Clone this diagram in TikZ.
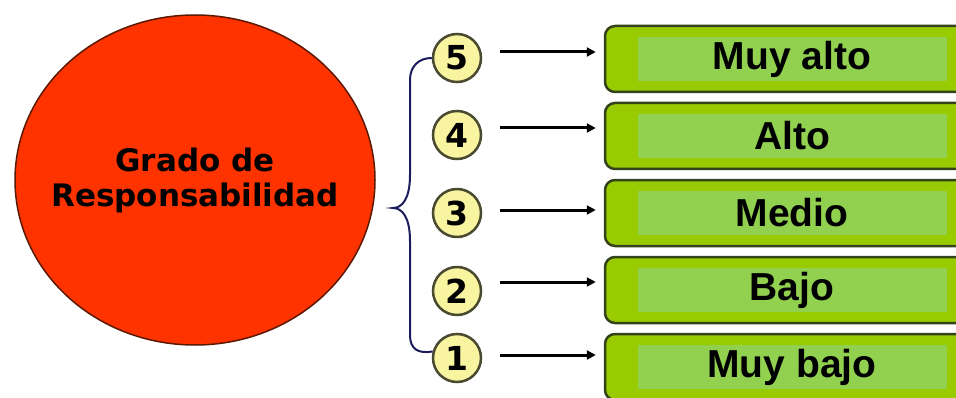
\documentclass[tikz,border=0pt]{standalone}
\usepackage{fontspec}
\usepackage{tikz}
\usetikzlibrary{shapes.geometric, arrows.meta, positioning, calc}
\usepackage{xcolor}

\newfontfamily\gradofont{DejaVu Sans}
\newfontfamily\nivelfont{Liberation Sans}

\definecolor{naranja}{HTML}{FF3300}
\definecolor{bordeRojo}{HTML}{5C1800}
\definecolor{amarillo}{HTML}{F8F4A0}
\definecolor{bordeNum}{HTML}{4A4A30}
\definecolor{verde}{HTML}{99CC00}
\definecolor{verdeClaro}{HTML}{92D050}
\definecolor{bordeVerde}{HTML}{34421A}
\definecolor{azulLlave}{HTML}{1C1C5C}

\begin{document}
\begin{tikzpicture}[x=1pt,y=1pt,node distance=77pt,on grid,auto]
    \tikzstyle{state}=[shape=ellipse,draw=bordeRojo,fill=naranja,line width=1.5pt,minimum width=360pt,minimum height=330pt,inner sep=0pt]
    \tikzstyle{title}=[align=center,text=black,inner sep=0pt,font=\gradofont\bfseries\fontsize{31}{35}\selectfont]
    \tikzstyle{number}=[shape=circle,draw=bordeNum,fill=amarillo,line width=2.5pt,minimum size=48pt,inner sep=0pt,font=\gradofont\bfseries\fontsize{33}{33}\selectfont]
    \tikzstyle{process}=[shape=rectangle,rounded corners=10pt,draw=bordeVerde,fill=verde,line width=2.5pt,minimum width=374pt,minimum height=66pt]
    \tikzstyle{level}=[shape=rectangle,fill=verdeClaro,minimum width=309pt,minimum height=44pt,inner sep=0pt,font=\nivelfont\bfseries\fontsize{39}{39}\selectfont]
    \tikzstyle{arrow}=[draw,-{Triangle[length=9pt,width=9pt]},line width=3pt,shorten <=18pt,shorten >=8pt]
    \tikzstyle{brace}=[draw=azulLlave,line width=2pt]

    \useasboundingbox (0,0) rectangle (956,397);

    \node[state] (A) at (195,217) {};
    \node[title] (A1) at (A) {Grado de\\Responsabilidad};
    \node[number] (B3) at (457,184) {3};
    \node[number, above=78pt of B3] (B4) {4};
    \node[number, above=77pt of B4] (B5) {5};
    \node[number, below=78pt of B3] (B2) {2};
    \node[number, below=67pt of B2] (B1) {1};
    \node[process, right=335pt of B3] (C3) {};
    \node[process, above=of C3] (C4) {};
    \node[process, above=of C4] (C5) {};
    \node[process, below=of C3] (C2) {};
    \node[process, below=of C2] (C1) {};
    \node[level] (D5) at (C5) {Muy alto};
    \node[level] (D4) at (C4) {Alto};
    \node[level] (D3) at (C3) {Medio};
    \node[level] (D2) at (C2) {Bajo};
    \node[level] (D1) at (C1) {Muy bajo};
    \coordinate (T) at (393,189);

    \path[every edge/.style={arrow}]
    ($(B5.east)+(0,6)$) edge ($(B5.east -| C5.west)+(0,6)$)
    ($(B4.east)+(0,7)$) edge ($(B4.east -| C4.west)+(0,7)$)
    ($(B3.east)+(0,3)$) edge ($(B3.east -| C3.west)+(0,3)$)
    ($(B2.east)+(0,9)$) edge ($(B2.east -| C2.west)+(0,9)$)
    ($(B1.east)+(0,3)$) edge ($(B1.east -| C1.west)+(0,3)$)
    ;
    \draw[brace] (B5.west) .. controls (418,339) and (410,330) .. (410,317) -- (410,222)
       .. controls (410,198) and (402,189) .. (T)
       .. controls (402,189) and (410,180) .. (410,156) -- (410,62)
       .. controls (410,48) and (418,43) .. (B1.165);

\end{tikzpicture}
\end{document}
